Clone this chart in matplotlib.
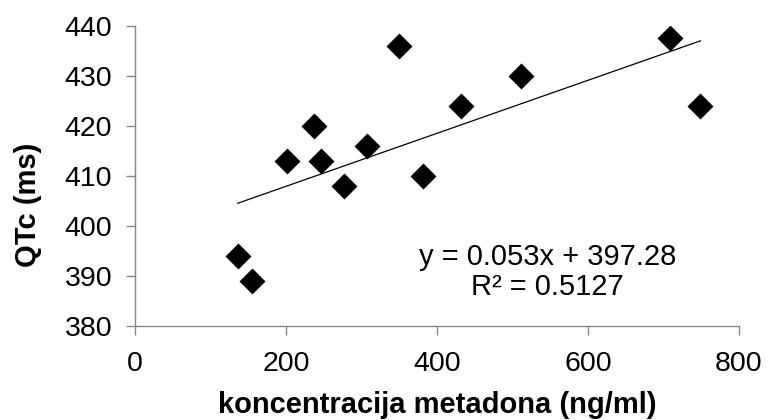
import matplotlib
matplotlib.use("Agg")
import matplotlib.pyplot as plt
import numpy as np

plt.rcParams['font.family'] = ['Liberation Sans', 'DejaVu Sans']

# data
conc = [136, 155, 201, 237, 246, 277, 307, 350, 382, 432, 511, 709, 749]
qtc = [394, 389, 413, 420, 413, 408, 416, 436, 410, 424, 430, 437.5, 424]
slope = 0.053
intercept = 397.28
eq_text = "y = 0.053x + 397.28"
r2_text = "R² = 0.5127"
xticks = [0, 200, 400, 600, 800]
yticks = [380, 390, 400, 410, 420, 430, 440]

fig = plt.figure(figsize=(7.68, 4.2), dpi=100)
ax = fig.add_axes([0.1758, 0.2245, 0.7864, 0.7143])

ax.scatter(conc, qtc, marker='D', s=175, color='black', zorder=3, linewidths=0)
xl = np.array([min(conc), max(conc)])
ax.plot(xl, slope * xl + intercept, color='black', lw=0.9, zorder=2)

ax.set_xlim(0, 800)
ax.set_ylim(380, 440)
ax.set_xticks(xticks)
ax.set_yticks(yticks)
for s in ['top', 'right']:
    ax.spines[s].set_visible(False)
for s in ['left', 'bottom']:
    ax.spines[s].set_color('#868686')
    ax.spines[s].set_linewidth(1.0)
ax.tick_params(axis='both', colors='#868686', length=6.5, width=1.0, labelcolor='black', labelsize=20.5)
ax.tick_params(axis='y', pad=10)
ax.tick_params(axis='x', pad=11.5)

ax.set_xlabel("koncentracija metadona (ng/ml)", fontsize=21, fontweight='bold', va='baseline')
ax.xaxis.set_label_coords(0.5, -0.291)
ax.set_ylabel("QTc (ms)", fontsize=21, fontweight='bold', va='center', ha='center', rotation_mode='anchor')
ax.yaxis.set_label_coords(-0.177, 0.402)

ax.text(546, 393.8, eq_text, ha='center', va='center', fontsize=21)
ax.text(546, 387.8, r2_text, ha='center', va='center', fontsize=21)

fig.savefig("out.png", dpi=100)
